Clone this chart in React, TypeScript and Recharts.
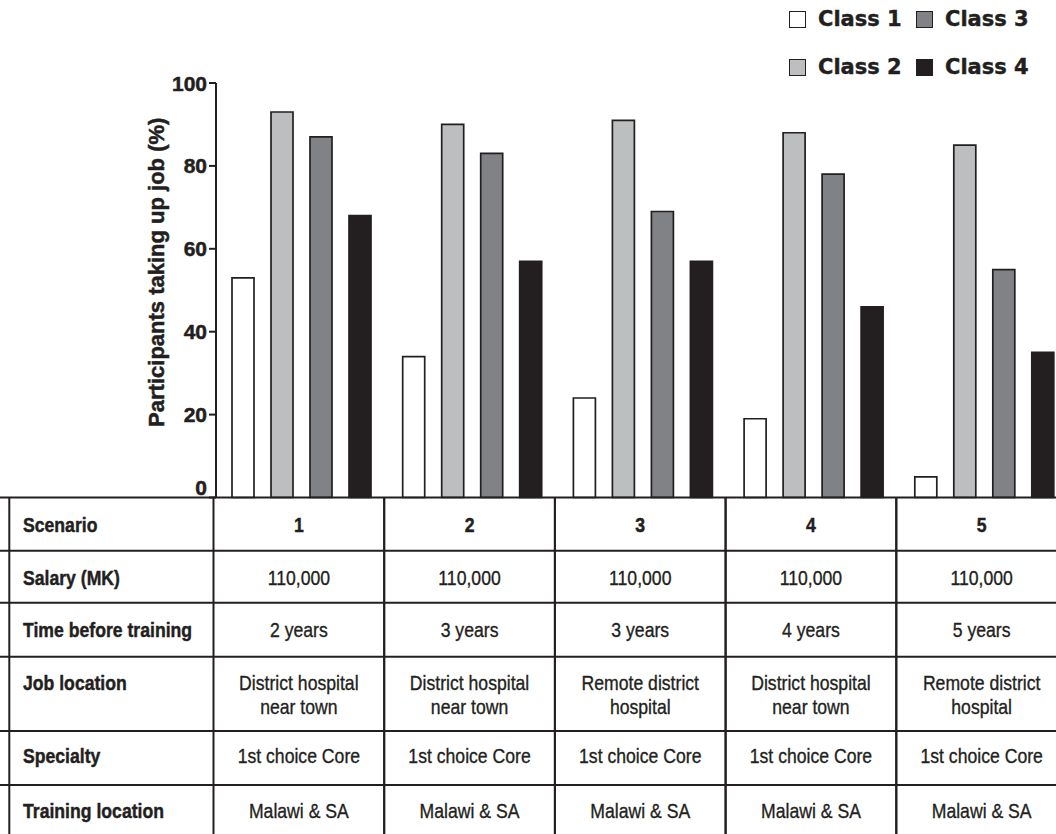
import React from 'react';
import { BarChart, Bar, XAxis, YAxis, Legend } from 'recharts';

// ---- data ----
const scenarios = ['1', '2', '3', '4', '5'];
const class1 = [53, 34, 24, 19, 5];
const class2 = [93, 90, 91, 88, 85];
const class3 = [87, 83, 69, 78, 55];
const class4 = [68, 57, 57, 46, 35];
const seriesNames = ['Class 1', 'Class 2', 'Class 3', 'Class 4'];
const seriesKeys = ['c1', 'c2', 'c3', 'c4'];
const seriesColors = ['#ffffff', '#bcbec0', '#808285', '#231f20'];
const yTicks = [0, 20, 40, 60, 80, 100];
const yLabel = 'Participants taking up job (%)';

const rowLabels = ['Scenario', 'Salary (MK)', 'Time before training', 'Job location', 'Specialty', 'Training location'];
const salaries = ['110,000', '110,000', '110,000', '110,000', '110,000'];
const timeBefore = ['2 years', '3 years', '3 years', '4 years', '5 years'];
const jobLocation = [
  ['District hospital', 'near town'],
  ['District hospital', 'near town'],
  ['Remote district', 'hospital'],
  ['District hospital', 'near town'],
  ['Remote district', 'hospital'],
];
const specialty = ['1st choice Core', '1st choice Core', '1st choice Core', '1st choice Core', '1st choice Core'];
const trainingLocation = ['Malawi & SA', 'Malawi & SA', 'Malawi & SA', 'Malawi & SA', 'Malawi & SA'];

const data = scenarios.map((s, i) => ({
  scenario: s,
  c1: class1[i],
  c2: class2[i],
  c3: class3[i],
  c4: class4[i],
}));

// ---- layout / style ----
const INK = '#231f20';
const CHART_W = 1072;
const CHART_H = 860;
const MARGIN = { top: 83, right: 2.5, bottom: 0, left: 136 };
const Y_AXIS_W = 80;
const X_AXIS_H = 362.5;
const PLOT_W = CHART_W - MARGIN.left - MARGIN.right - Y_AXIS_W;
const BAND = PLOT_W / scenarios.length;
const COL_SHIFT = -2.5;
const ROW_LINES = [0, 53.2, 105.2, 159.2, 233.5, 287.5, 340.5];
const ROW_BASE = [34.5, 87.5, 139.5, 192.5, 265.5, 320.5];
const LINE2 = 24;
const TABLE_FONT = '"Liberation Sans", Arial, sans-serif';

const Cell = ({ x, y, anchor, bold, children }: any) => (
  <text
    transform={`translate(${x},${y}) scale(0.86,1)`}
    textAnchor={anchor}
    fontFamily={TABLE_FONT}
    fontSize={20.5}
    fontWeight={bold ? 700 : 400}
    fill={INK}
    stroke={INK}
    strokeWidth={bold ? 0.45 : 0.35}
  >
    {children}
  </text>
);

const TableTick = (props: any) => {
  const { x, y, index } = props;
  const cx = x + COL_SHIFT;
  const left = cx - BAND / 2;
  const right = cx + BAND / 2;
  const bottom = y + ROW_LINES[ROW_LINES.length - 1];
  const i = index;
  return (
    <g>
      {index === 0 && (
        <g>
          {ROW_LINES.map((o, k) => (
            <line key={k} x1={0} x2={CHART_W} y1={y + o} y2={y + o} stroke={INK} strokeWidth={2} />
          ))}
          <line x1={9.3} x2={9.3} y1={y} y2={bottom} stroke={INK} strokeWidth={2} />
          {rowLabels.map((lbl, k) => (
            <Cell key={k} x={23} y={y + ROW_BASE[k]} anchor="start" bold>
              {lbl}
            </Cell>
          ))}
        </g>
      )}
      <line x1={left} x2={left} y1={y} y2={bottom} stroke={INK} strokeWidth={2} />
      <line x1={right} x2={right} y1={y} y2={bottom} stroke={INK} strokeWidth={2} />
      <Cell x={cx} y={y + ROW_BASE[0]} anchor="middle" bold>{scenarios[i]}</Cell>
      <Cell x={cx} y={y + ROW_BASE[1]} anchor="middle">{salaries[i]}</Cell>
      <Cell x={cx} y={y + ROW_BASE[2]} anchor="middle">{timeBefore[i]}</Cell>
      <Cell x={cx} y={y + ROW_BASE[3]} anchor="middle">{jobLocation[i][0]}</Cell>
      <Cell x={cx} y={y + ROW_BASE[3] + LINE2} anchor="middle">{jobLocation[i][1]}</Cell>
      <Cell x={cx} y={y + ROW_BASE[4]} anchor="middle">{specialty[i]}</Cell>
      <Cell x={cx} y={y + ROW_BASE[5]} anchor="middle">{trainingLocation[i]}</Cell>
    </g>
  );
};

const YTick = (props: any) => {
  const { x, y, payload } = props;
  const dy = payload.value === 0 ? -10 : 0;
  return (
    <text
      x={x}
      y={y + dy}
      dy="0.36em"
      textAnchor="end"
      fontFamily={TABLE_FONT}
      fontWeight={700}
      fontSize={21}
      fill={INK}
      stroke={INK}
      strokeWidth={0.5}
    >
      {payload.value}
    </text>
  );
};

const YLabel = (props: any) => {
  const vb = props.viewBox || {};
  const lx = vb.x + 28;
  const ly = vb.y + vb.height / 2 - 18;
  return (
    <text
      x={lx}
      y={ly}
      textAnchor="middle"
      transform={`rotate(-90, ${lx}, ${ly})`}
      fontFamily={TABLE_FONT}
      fontWeight={700}
      fontSize={22}
      fill={INK}
      stroke={INK}
      strokeWidth={0.5}
    >
      {yLabel}
    </text>
  );
};

const LEG_COL_X = [789, 916];
const LEG_ROW_Y = [11, 59];

const renderLegend = (props: any) => {
  const payload = props.payload || [];
  return (
    <div style={{ position: 'relative', width: CHART_W, height: 90 }}>
      {payload.map((p: any, k: number) => {
        const idx = seriesNames.indexOf(p.value);
        const col = Math.floor(idx / 2);
        const row = idx % 2;
        return (
          <div
            key={k}
            style={{
              position: 'absolute',
              left: LEG_COL_X[col],
              top: LEG_ROW_Y[row] - 4,
              height: 24,
              display: 'flex',
              alignItems: 'center',
              whiteSpace: 'nowrap',
            }}
          >
            <span
              style={{
                display: 'inline-block',
                width: 17,
                height: 17,
                boxSizing: 'border-box',
                border: `1.5px solid ${INK}`,
                background: seriesColors[idx],
                marginRight: 12,
              }}
            />
            <span
              style={{
                fontFamily: '"DejaVu Sans", sans-serif',
                fontWeight: 700,
                fontSize: 21,
                color: INK,
                lineHeight: '24px',
                WebkitTextStroke: `0.4px ${INK}`,
              }}
            >
              {p.value}
            </span>
          </div>
        );
      })}
    </div>
  );
};

export default function App() {
  return (
    <div
      style={{
        position: 'absolute',
        left: 0,
        top: 0,
        width: 1056,
        height: 834,
        overflow: 'hidden',
        background: '#ffffff',
      }}
    >
      <BarChart
        width={CHART_W}
        height={CHART_H}
        data={data}
        margin={MARGIN}
        barSize={22}
        barGap={17}
      >
        <XAxis
          dataKey="scenario"
          height={X_AXIS_H}
          axisLine={false}
          tickLine={false}
          tickSize={0}
          tickMargin={0}
          interval={0}
          tick={<TableTick />}
        />
        <YAxis
          domain={[0, 100]}
          ticks={yTicks}
          width={Y_AXIS_W}
          axisLine={{ stroke: INK, strokeWidth: 2 }}
          tickLine={{ stroke: INK, strokeWidth: 2 }}
          tickSize={7}
          tickMargin={2}
          tick={<YTick />}
          label={<YLabel />}
        />
        <Legend
          layout="horizontal"
          verticalAlign="middle"
          align="center"
          content={renderLegend}
          wrapperStyle={{ position: 'absolute', top: 0, left: 0, width: CHART_W, height: 90 }}
        />
        {seriesKeys.map((k, i) => (
          <Bar
            key={k}
            dataKey={k}
            name={seriesNames[i]}
            fill={seriesColors[i]}
            stroke={INK}
            strokeWidth={1.7}
            isAnimationActive={false}
          />
        ))}
      </BarChart>
    </div>
  );
}
